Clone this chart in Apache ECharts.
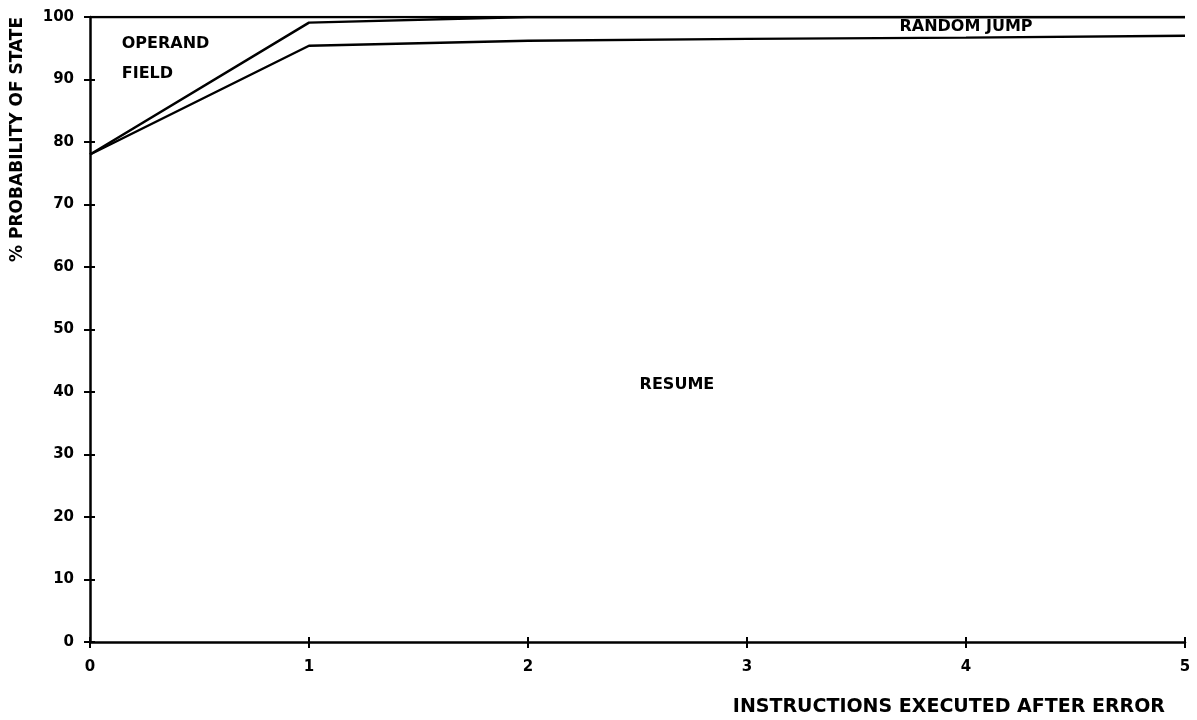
<!DOCTYPE html>
<html>
<head>
<meta charset="utf-8">
<script src="https://cdn.jsdelivr.net/npm/echarts@6/dist/echarts.min.js"></script>
<style>
  html, body { margin: 0; padding: 0; background: #fff; }
  #chart { width: 1197px; height: 720px; }
</style>
</head>
<body>
<div id="chart"></div>
<script>
// instructions executed after error
const steps = [0, 1, 2, 3, 4, 5]
// upper edge of the RESUME region (%)
const resumeTop = [78, 95.4, 96.2, 96.5, 96.7, 97]
// upper edge of the OPERAND FIELD region (%)
const operandTop = [78, 99.1, 100, 100, 100, 100]
// upper edge of the RANDOM JUMP region (%)
const jumpTop = [100, 100, 100, 100, 100, 100]

const font = '"DejaVu Sans", sans-serif'
const chart = echarts.init(document.getElementById('chart'))

const pairs = arr => steps.map((x, i) => [x, arr[i]])

const lineStyle = { color: '#000', width: 2.5 }
const regionLabel = (coord, text, align) => ({
  coord: coord,
  symbolSize: 0,
  label: {
    show: true,
    position: 'inside',
    formatter: text,
    color: '#000',
    fontFamily: font,
    fontWeight: 'bold',
    fontSize: 16,
    lineHeight: 30,
    align: align || 'center'
  }
})

// a second copy of each axis only draws the inner half of the crossing ticks
const tickOnly = {
  type: 'value',
  splitLine: { show: false },
  axisLine: { show: false },
  axisLabel: { show: false },
  axisTick: { inside: true, length: 5, lineStyle: { color: '#000', width: 2 } }
}

const option = {
  animation: false,
  grid: { left: 90, right: 12, top: 17, bottom: 78 },
  xAxis: [{
    type: 'value',
    min: 0,
    max: 5,
    interval: 1,
    name: 'INSTRUCTIONS EXECUTED AFTER ERROR',
    nameLocation: 'end',
    nameGap: 0,
    nameTextStyle: {
      color: '#000', fontFamily: font, fontWeight: 'bold', fontSize: 19,
      align: 'right', verticalAlign: 'top', padding: [56, 20, 0, 0]
    },
    splitLine: { show: false },
    axisLine: { lineStyle: { color: '#000', width: 2.5 } },
    axisTick: { inside: false, length: 6, lineStyle: { color: '#000', width: 2 } },
    axisLabel: { color: '#000', fontFamily: font, fontWeight: 'bold', fontSize: 15, margin: 18 }
  }, { ...tickOnly, min: 0, max: 5, interval: 1, position: 'bottom' }],
  yAxis: [{
    type: 'value',
    min: 0,
    max: 100,
    interval: 10,
    name: '% PROBABILITY OF STATE',
    nameLocation: 'end',
    nameRotate: 90,
    nameGap: 0,
    nameTextStyle: {
      color: '#000', fontFamily: font, fontWeight: 'bold', fontSize: 17,
      align: 'right', verticalAlign: 'bottom', padding: [0, 0, 64, 0]
    },
    splitLine: { show: false },
    axisLine: { lineStyle: { color: '#000', width: 2.5 } },
    axisTick: { inside: false, length: 6, lineStyle: { color: '#000', width: 2 } },
    axisLabel: { color: '#000', fontFamily: font, fontWeight: 'bold', fontSize: 15, margin: 16 }
  }, { ...tickOnly, min: 0, max: 100, interval: 10, position: 'left' }],
  series: [
    {
      name: 'RESUME',
      type: 'line',
      data: pairs(resumeTop),
      symbol: 'none',
      lineStyle: lineStyle,
      markPoint: {
        symbol: 'circle',
        data: [
          regionLabel([2.68, 41.2], 'RESUME'),
          regionLabel([0.145, 93.3], 'OPERAND\nFIELD', 'left')
        ]
      }
    },
    {
      name: 'OPERAND FIELD',
      type: 'line',
      data: pairs(operandTop),
      symbol: 'none',
      lineStyle: lineStyle
    },
    {
      name: 'RANDOM JUMP',
      type: 'line',
      data: pairs(jumpTop),
      symbol: 'none',
      lineStyle: lineStyle,
      markPoint: {
        symbol: 'circle',
        data: [regionLabel([4.0, 98.5], 'RANDOM JUMP')]
      }
    }
  ]
}

chart.setOption(option)
</script>
</body>
</html>
